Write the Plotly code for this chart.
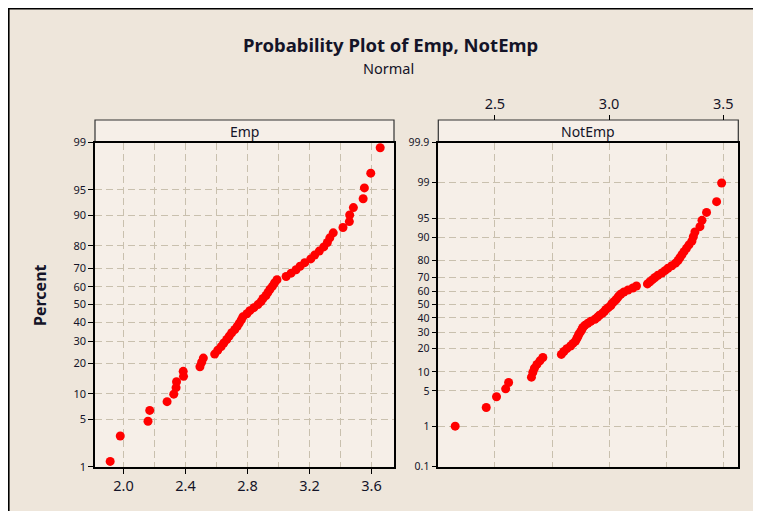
import math
import plotly.graph_objects as go

emp_values = [1.914, 1.979, 2.158, 2.169, 2.281, 2.324, 2.339, 2.342, 2.387, 2.385,
              2.493, 2.504, 2.515, 2.588, 2.608, 2.630, 2.647, 2.666, 2.682, 2.698,
              2.718, 2.734, 2.747, 2.760, 2.770, 2.796, 2.815, 2.841, 2.867, 2.887,
              2.900, 2.919, 2.932, 2.945, 2.961, 2.974, 2.990, 3.049, 3.081, 3.113,
              3.139, 3.169, 3.208, 3.233, 3.263, 3.292, 3.315, 3.331, 3.353, 3.416,
              3.457, 3.459, 3.483, 3.546, 3.554, 3.595, 3.656]
notemp_values = [2.326, 2.462, 2.507, 2.547, 2.560, 2.660, 2.666, 2.673, 2.684, 2.697,
                 2.710, 2.791, 2.802, 2.815, 2.831, 2.842, 2.853, 2.859, 2.864, 2.868,
                 2.875, 2.881, 2.885, 2.894, 2.907, 2.920, 2.938, 2.949, 2.958, 2.971,
                 2.980, 2.986, 2.997, 3.008, 3.012, 3.021, 3.030, 3.037, 3.043, 3.052,
                 3.065, 3.083, 3.104, 3.120, 3.168, 3.179, 3.190, 3.201, 3.214, 3.231,
                 3.245, 3.258, 3.275, 3.291, 3.302, 3.310, 3.319, 3.328, 3.339, 3.350,
                 3.363, 3.369, 3.376, 3.398, 3.407, 3.427, 3.471, 3.493]

emp_pct_ticks = [1, 5, 10, 20, 30, 40, 50, 60, 70, 80, 90, 95, 99]
notemp_pct_ticks = [0.1, 1, 5, 10, 20, 30, 40, 50, 60, 70, 80, 90, 95, 99, 99.9]
emp_x_ticks = [2.0, 2.4, 2.8, 3.2, 3.6]
notemp_x_ticks = [2.5, 3.0, 3.5]


def norm_cdf(z):
    return 0.5 * (1.0 + math.erf(z / math.sqrt(2.0)))


def norm_ppf(p):
    lo, hi = -10.0, 10.0
    for _ in range(200):
        mid = 0.5 * (lo + hi)
        if norm_cdf(mid) < p:
            lo = mid
        else:
            hi = mid
    return 0.5 * (lo + hi)


def plot_positions(n):
    # Benard median ranks (Minitab default)
    return [norm_ppf((i - 0.3) / (n + 0.4)) for i in range(1, n + 1)]


def fmt(v):
    return ("%g" % v)


# the page body has an 8px margin; the figure fills the rest of the window
OFF = 8
W, H = 761 - OFF, 511 - OFF
def px(x):
    return (x - OFF) / W
def py(y):
    return 1 - (y - OFF) / H

xd1 = [px(95), px(394)]
xd2 = [px(438.3), px(738.3)]
yd = [py(466.7), py(142.5)]
strip_top = py(120)

PLOT_BG = "#F6EFE8"
OUT_BG = "#EEE6DB"
GRID = "#C9C0AE"
DASH = "7px,4px"
FONT = "Noto Sans"
TXT = "#141428"

fig = go.Figure()

fig.add_trace(go.Scatter(
    x=emp_values, y=plot_positions(len(emp_values)), mode="markers",
    marker=dict(color="#FF0000", size=9, symbol="circle"),
    xaxis="x", yaxis="y", showlegend=False, hoverinfo="skip"))
fig.add_trace(go.Scatter(
    x=notemp_values, y=plot_positions(len(notemp_values)), mode="markers",
    marker=dict(color="#FF0000", size=9, symbol="circle"),
    xaxis="x2", yaxis="y2", showlegend=False, hoverinfo="skip"))
# carrier trace for the top tick axis of the right panel
fig.add_trace(go.Scatter(
    x=[notemp_x_ticks[0]], y=[0], mode="markers", marker=dict(opacity=0),
    xaxis="x3", yaxis="y2", showlegend=False, hoverinfo="skip"))

common_line = dict(showline=True, linecolor="black", linewidth=1.6, mirror=True,
                   zeroline=False, automargin=False)

fig.update_layout(
    width=W, height=H, autosize=False,
    margin=dict(l=0, r=0, t=0, b=0, pad=0, autoexpand=False),
    paper_bgcolor=OUT_BG,
    plot_bgcolor=PLOT_BG,
    showlegend=False,
    font=dict(family=FONT, color=TXT),
    xaxis=dict(domain=xd1, anchor="y", range=[1.816, 3.745],
               tickmode="array", tickvals=emp_x_ticks,
               ticktext=["%.1f" % v for v in emp_x_ticks],
               ticks="outside", ticklen=5, tickcolor="black", tickwidth=1.2,
               tickfont=dict(size=14.5, family=FONT, color=TXT),
               showgrid=True, gridcolor=GRID, griddash=DASH, gridwidth=1,
               minor=dict(tick0=1.8, dtick=0.2, showgrid=True, gridcolor=GRID,
                          griddash=DASH, gridwidth=1, ticks=""),
               **common_line),
    yaxis=dict(domain=yd, anchor="x",
               range=[norm_ppf(0.01), norm_ppf(0.99)],
               tickmode="array",
               tickvals=[norm_ppf(p / 100) for p in emp_pct_ticks],
               ticktext=[fmt(p) for p in emp_pct_ticks],
               ticks="outside", ticklen=5, tickcolor="black", tickwidth=1.2,
               tickfont=dict(size=11, family=FONT, color=TXT),
               showgrid=True, gridcolor=GRID, griddash=DASH, gridwidth=1,
               **common_line),
    xaxis2=dict(domain=xd2, anchor="y2", range=[2.252, 3.566],
                showticklabels=False, ticks="",
                tickmode="linear", tick0=2.5, dtick=0.25,
                showgrid=True, gridcolor=GRID, griddash=DASH, gridwidth=1,
                **common_line),
    xaxis3=dict(overlaying="x2", anchor="free", position=strip_top, side="top",
                range=[2.252, 3.566], tickmode="array", tickvals=notemp_x_ticks,
                ticktext=["%.1f" % v for v in notemp_x_ticks],
                ticks="outside", ticklen=5, tickcolor="black", tickwidth=1.2,
                tickfont=dict(size=14.5, family=FONT, color=TXT), automargin=False,
                showgrid=False, showline=False, zeroline=False),
    yaxis2=dict(domain=yd, anchor="x2",
                range=[norm_ppf(0.001), norm_ppf(0.999)],
                tickmode="array",
                tickvals=[norm_ppf(p / 100) for p in notemp_pct_ticks],
                ticktext=[fmt(p) for p in notemp_pct_ticks],
                ticks="outside", ticklen=5, tickcolor="black", tickwidth=1.2,
                tickfont=dict(size=10.5, family=FONT, color=TXT),
                showgrid=True, gridcolor=GRID, griddash=DASH, gridwidth=1,
                **common_line),
)

shapes = [
    # outer frame (top and left edges)
    dict(type="line", xref="paper", yref="paper", x0=0, x1=1, y0=1 - 0.8 / H, y1=1 - 0.8 / H,
         line=dict(color="black", width=1.6)),
    dict(type="line", xref="paper", yref="paper", x0=0.8 / W, x1=0.8 / W, y0=0, y1=1,
         line=dict(color="black", width=1.6)),
    # strip headers
    dict(type="rect", xref="paper", yref="paper", x0=xd1[0], x1=xd1[1], y0=yd[1], y1=strip_top,
         fillcolor=PLOT_BG, line=dict(color="#333333", width=1.2), layer="below"),
    dict(type="rect", xref="paper", yref="paper", x0=xd2[0], x1=xd2[1], y0=yd[1], y1=strip_top,
         fillcolor=PLOT_BG, line=dict(color="#333333", width=1.2), layer="below"),
]
fig.update_layout(shapes=shapes)

def ann(text, x, y, size, angle=0):
    return dict(text=text, x=x, y=y, xref="paper", yref="paper", showarrow=False,
                xanchor="center", yanchor="middle", textangle=angle,
                font=dict(size=size, family=FONT, color=TXT))

annotations = [
    ann("<b>Probability Plot of Emp, NotEmp</b>", px(390), py(44), 18.5),
    ann("Normal", px(388), py(67.5), 14.5),
    ann("Emp", (xd1[0] + xd1[1]) / 2, (yd[1] + strip_top) / 2, 14),
    ann("NotEmp", (xd2[0] + xd2[1]) / 2, (yd[1] + strip_top) / 2, 14),
    ann("<b>Percent</b>", px(40), py(295), 16, -90),
]
fig.update_layout(annotations=annotations)

fig.write_html("out.html")
